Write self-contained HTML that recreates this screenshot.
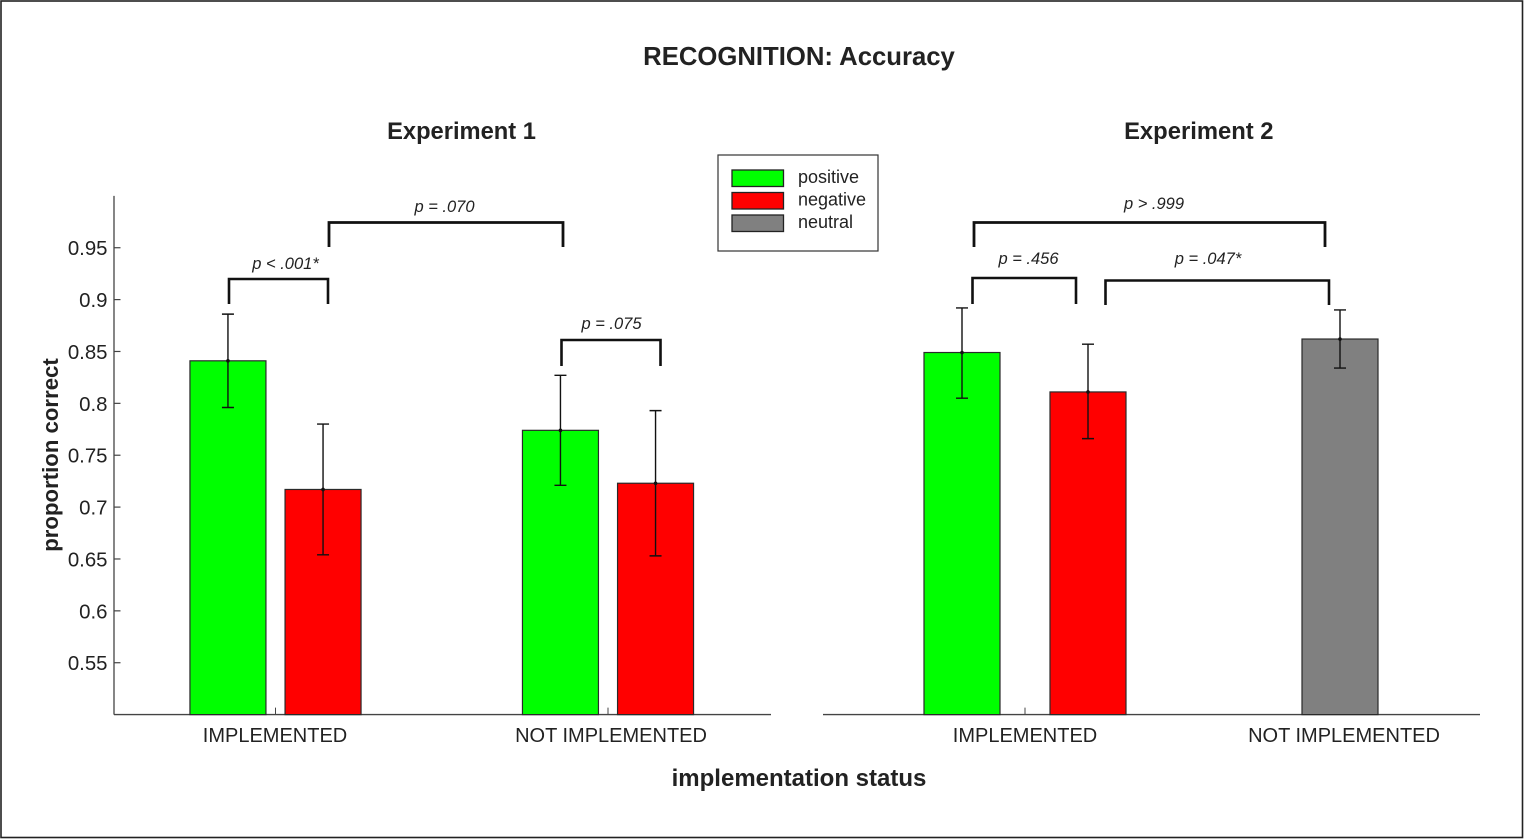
<!DOCTYPE html>
<html lang="en">
<head>
<meta charset="utf-8">
<title>RECOGNITION: Accuracy</title>
<style>
html,body{margin:0;padding:0;background:#fff;}
#stage{position:relative;width:1524px;height:840px;overflow:hidden;background:#fff;}
svg{display:block;font-family:"Liberation Sans",sans-serif;}
text{fill:#222;}
</style>
</head>
<body>
<div id="stage">
<svg id="chart" xmlns="http://www.w3.org/2000/svg" width="1524" height="840" viewBox="0 0 1524 840">
  <rect x="1" y="1" width="1521.5" height="836.5" fill="#fff" stroke="#222" stroke-width="1.6"/>
  <text x="799" y="65" font-size="25.7" font-weight="bold" text-anchor="middle">RECOGNITION: Accuracy</text>
  <text x="461.500" y="139" font-size="23.7" font-weight="bold" text-anchor="middle">Experiment 1</text>
  <text x="1198.800" y="139" font-size="23.8" font-weight="bold" text-anchor="middle">Experiment 2</text>
  <text transform="translate(58,455) rotate(-90)" font-size="22.2" font-weight="bold" text-anchor="middle">proportion correct</text>
  <text x="799" y="786" font-size="24" font-weight="bold" text-anchor="middle">implementation status</text>

  <g id="axes"></g>
  <g id="bars"></g>
  <g id="errors"></g>

  <g fill="none" stroke="#111" stroke-linejoin="miter">
    <path d="M229 304V279H328V304" stroke-width="2.6"/>
    <path d="M329 247V222.500H563V247" stroke-width="2.8"/>
    <path d="M561.500 366V340H660.500V366" stroke-width="2.6"/>
    <path d="M974 247V222.500H1325V247" stroke-width="2.8"/>
    <path d="M972.500 304V278H1076V304" stroke-width="2.6"/>
    <path d="M1105.500 305V280.500H1329V305" stroke-width="2.6"/>
  </g>
  <g font-size="16.500" font-style="italic" text-anchor="middle">
    <text x="285.500" y="269">p &lt; .001*</text>
    <text x="444.500" y="212">p = .070</text>
    <text x="611.500" y="329">p = .075</text>
    <text x="1154" y="209">p &gt; .999</text>
    <text x="1028.500" y="264">p = .456</text>
    <text x="1208" y="264">p = .047*</text>
  </g>

  <g>
    <rect x="718" y="155" width="160" height="96" fill="#fff" stroke="#333" stroke-width="1.2"/>
    <rect x="732" y="170" width="51.500" height="16.500" fill="#00ff00" stroke="#222" stroke-width="1.3"/>
    <rect x="732" y="192.500" width="51.500" height="16.500" fill="#ff0000" stroke="#222" stroke-width="1.3"/>
    <rect x="732" y="215" width="51.500" height="16.500" fill="#808080" stroke="#222" stroke-width="1.3"/>
    <text x="798" y="183" font-size="18">positive</text>
    <text x="798" y="205.500" font-size="18">negative</text>
    <text x="798" y="228" font-size="18">neutral</text>
  </g>
</svg>
</div>
<script>
const yTicks = [0.55, 0.6, 0.65, 0.7, 0.75, 0.8, 0.85, 0.9, 0.95];
const yTickLabels = ['0.55', '0.6', '0.65', '0.7', '0.75', '0.8', '0.85', '0.9', '0.95'];
const categories = ['IMPLEMENTED', 'NOT IMPLEMENTED'];
const conditionNames = ['positive', 'negative', 'neutral'];

const exp1Positive = [0.841, 0.774];
const exp1PositiveLow = [0.796, 0.721];
const exp1PositiveHigh = [0.886, 0.827];
const exp1Negative = [0.717, 0.723];
const exp1NegativeLow = [0.654, 0.653];
const exp1NegativeHigh = [0.780, 0.793];

const exp2Positive = [0.849];
const exp2PositiveLow = [0.805];
const exp2PositiveHigh = [0.892];
const exp2Negative = [0.811];
const exp2NegativeLow = [0.766];
const exp2NegativeHigh = [0.857];
const exp2Neutral = [null, 0.862];
const exp2NeutralLow = [null, 0.834];
const exp2NeutralHigh = [null, 0.890];

const NS = 'http://www.w3.org/2000/svg';
const colors = { positive: '#00ff00', negative: '#ff0000', neutral: '#808080' };
const axisGroup = document.getElementById('axes');
const barGroup = document.getElementById('bars');
const errorGroup = document.getElementById('errors');
const BAR_WIDTH = 76;

function yScale(v) { return 714.6 - (v - 0.5) * 1037.5; }
function xExp1(cat) { return 275.5 + cat * 332.5; }
function xExp2(cat) { return 1025 + cat * 315; }

function make(tag, attrs, parent) {
  const el = document.createElementNS(NS, tag);
  Object.keys(attrs).forEach(function (k) { el.setAttribute(k, attrs[k]); });
  parent.appendChild(el);
  return el;
}

function drawBar(cx, value, low, high, condition, key) {
  const top = yScale(value);
  const bar = make('rect', { x: cx - BAR_WIDTH / 2, y: top, width: BAR_WIDTH, height: yScale(0.5) - top, fill: colors[condition], stroke: '#2a2a2a', 'stroke-width': 1.2 }, barGroup);
  
  

  const err = make('path', { d: 'M' + (cx - 6) + ' ' + yScale(high) + 'H' + (cx + 6) + 'M' + cx + ' ' + yScale(high) + 'V' + yScale(low) + 'M' + (cx - 6) + ' ' + yScale(low) + 'H' + (cx + 6), fill: 'none', stroke: '#111', 'stroke-width': 1.4 }, errorGroup);
  
  

  const dot = make('circle', { cx: cx, cy: top, r: 1.8, fill: '#111' }, errorGroup);
  
  
}

/* y axis (left panel) */
const yAxisLine = make('line', { x1: 114, x2: 114, y1: yScale(1), y2: yScale(0.5), stroke: '#444', 'stroke-width': 1.3 }, axisGroup);



yTicks.forEach(function (t, i) {
  const tick = make('line', { x1: 114, x2: 120.5, y1: yScale(t), y2: yScale(t), stroke: '#444', 'stroke-width': 1.2 }, axisGroup);
  
  
  const lab = make('text', { x: 107.5, y: yScale(t) + 7.5, 'font-size': 20.4, 'text-anchor': 'end' }, axisGroup);
  lab.textContent = yTickLabels[i];
  
  
});

/* x axes */
const xAxis1 = make('line', { x1: 114, x2: 771, y1: yScale(0.5), y2: yScale(0.5), stroke: '#444', 'stroke-width': 1.4 }, axisGroup);


const xAxis2 = make('line', { x1: 823, x2: 1480, y1: yScale(0.5), y2: yScale(0.5), stroke: '#444', 'stroke-width': 1.4 }, axisGroup);



categories.forEach(function (c, i) {
  const tx1 = xExp1(i);
  const t1 = make('line', { x1: tx1, x2: tx1, y1: yScale(0.5) - 7, y2: yScale(0.5), stroke: '#444', 'stroke-width': 1 }, axisGroup);
  
  
  const l1 = make('text', { x: tx1 - 0.5 + i * 3.5, y: 742, 'font-size': 20, 'text-anchor': 'middle' }, axisGroup);
  l1.textContent = c;
  
  

  const tx2 = xExp2(i);
  if (i === 0) {
    const t2 = make('line', { x1: tx2, x2: tx2, y1: yScale(0.5) - 7, y2: yScale(0.5), stroke: '#444', 'stroke-width': 1 }, axisGroup);
    
    
  }
  const l2 = make('text', { x: tx2 + i * 4, y: 742, 'font-size': 20, 'text-anchor': 'middle' }, axisGroup);
  l2.textContent = c;
  
  
});

/* Experiment 1 bars */
exp1Positive.forEach(function (v, i) {
  drawBar(xExp1(i - 0.143), v, exp1PositiveLow[i], exp1PositiveHigh[i], conditionNames[0], 'exp1-positive-' + i);
});
exp1Negative.forEach(function (v, i) {
  drawBar(xExp1(i + 0.143), v, exp1NegativeLow[i], exp1NegativeHigh[i], conditionNames[1], 'exp1-negative-' + i);
});

/* Experiment 2 bars */
exp2Positive.forEach(function (v, i) {
  drawBar(xExp2(i - 0.2), v, exp2PositiveLow[i], exp2PositiveHigh[i], conditionNames[0], 'exp2-positive-' + i);
});
exp2Negative.forEach(function (v, i) {
  drawBar(xExp2(i + 0.2), v, exp2NegativeLow[i], exp2NegativeHigh[i], conditionNames[1], 'exp2-negative-' + i);
});
exp2Neutral.forEach(function (v, i) {
  if (v !== null) {
    drawBar(xExp2(i), v, exp2NeutralLow[i], exp2NeutralHigh[i], conditionNames[2], 'exp2-neutral-' + i);
  }
});
</script>
</body>
</html>
